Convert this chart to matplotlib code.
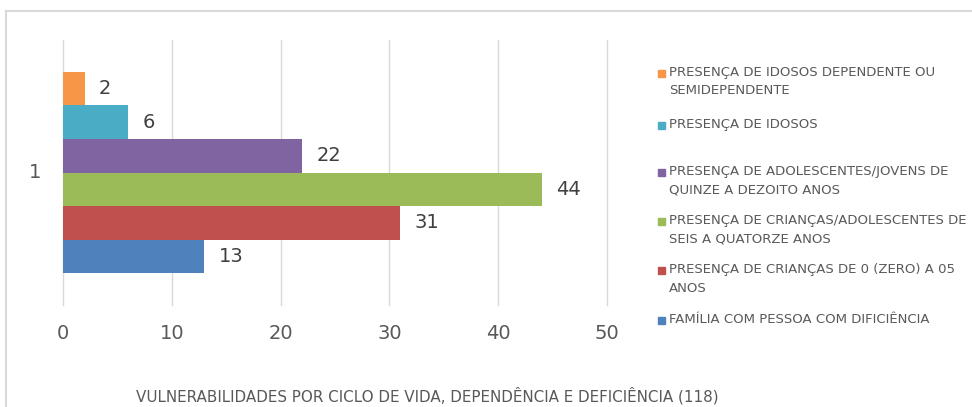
import matplotlib
matplotlib.use("Agg")
import matplotlib.pyplot as plt
from matplotlib.patches import Rectangle
from matplotlib.lines import Line2D

plt.rcParams['font.family'] = ['Liberation Sans Narrow', 'DejaVu Sans']

categories = ["1"]
series_names = [
    "PRESENÇA DE IDOSOS DEPENDENTE OU\nSEMIDEPENDENTE",
    "PRESENÇA DE IDOSOS",
    "PRESENÇA DE ADOLESCENTES/JOVENS DE\nQUINZE A DEZOITO ANOS",
    "PRESENÇA DE CRIANÇAS/ADOLESCENTES DE\nSEIS A QUATORZE ANOS",
    "PRESENÇA DE CRIANÇAS DE 0 (ZERO) A 05\nANOS",
    "FAMÍLIA COM PESSOA COM DIFICIÊNCIA",
]
values = [2, 6, 22, 44, 31, 13]
colors = ["#F79646", "#4BACC6", "#8064A2", "#9BBB59", "#C0504D", "#4F81BD"]
xticks = [0, 10, 20, 30, 40, 50]
title = "VULNERABILIDADES POR CICLO DE VIDA, DEPENDÊNCIA E DEFICIÊNCIA (118)"

W, H = 972, 407
fig = plt.figure(figsize=(W / 100, H / 100), dpi=100)
fig.patch.set_facecolor("white")

# outer frame (partially visible)
fig.add_artist(Line2D([6 / W, 1], [1 - 11 / H, 1 - 11 / H], color="#d9d9d9", lw=1.5, transform=fig.transFigure))
fig.add_artist(Line2D([6 / W, 6 / W], [0, 1 - 11 / H], color="#d9d9d9", lw=1.5, transform=fig.transFigure))

left, right, top, bottom = 63, 607, 40, 305
ax = fig.add_axes([left / W, 1 - bottom / H, (right - left) / W, (bottom - top) / H])

n = len(values)
bh = 0.127
for i, (v, c) in enumerate(zip(values, colors)):
    y = (n / 2 - 0.5 - i) * bh
    ax.barh(y, v, height=bh, color=c, zorder=3)
    ax.text(v + 1.3, y, str(v), va="center", ha="left", fontsize=14, color="#404040", zorder=4)

ax.set_xlim(0, 50)
ax.set_ylim(-0.5, 0.5)
ax.set_xticks(xticks)
ax.set_xticklabels([str(t) for t in xticks], fontsize=14, color="#595959")
ax.tick_params(axis="x", length=0, pad=14)
ax.set_yticks([])
ax.grid(axis="x", color="#d9d9d9", lw=1, zorder=0)
for gl in ax.get_xgridlines():
    gl.set_clip_on(False)
for s in ax.spines.values():
    s.set_visible(False)

fig.text(35 / W, 1 - 173 / H, categories[0], fontsize=14, color="#595959", ha="center", va="center")

# legend
leg_y = [73, 125, 172, 221, 270, 320]
for name, c, yy in zip(series_names, colors, leg_y):
    fig.add_artist(Rectangle((658 / W, 1 - (yy + 4) / H), 7 / W, 7 / H, color=c, transform=fig.transFigure))
    fig.text(669 / W, 1 - (yy - 7) / H, name, fontsize=9.5, color="#595959", ha="left", va="top",
             linespacing=1.55)

fig.text(427 / W, 1 - 396 / H, title, fontsize=10.9, color="#595959", ha="center", va="center")

fig.savefig("out.png", dpi=100)
